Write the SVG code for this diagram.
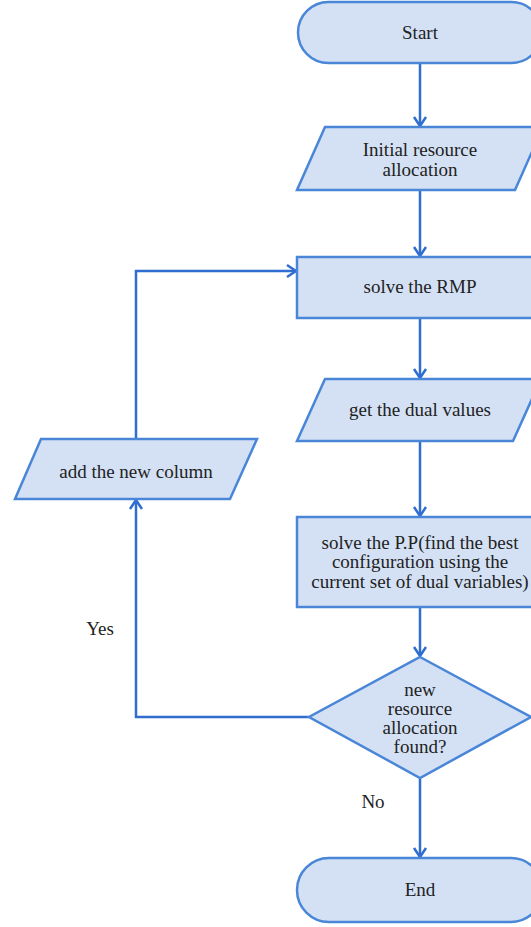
<svg xmlns="http://www.w3.org/2000/svg" width="531" height="927" viewBox="0 0 531 927">
<style>
.shape{fill:#D4E1F5;stroke:#4A86D8;stroke-width:2.5}
.conn{fill:none;stroke:#2F6DD0;stroke-width:2.5}
.t{font-family:'Liberation Serif',serif;font-size:19px;fill:#222;text-anchor:middle}
</style>
<defs>
<marker id="arr" markerUnits="userSpaceOnUse" markerWidth="16" markerHeight="16" refX="12" refY="8" orient="auto" viewBox="0 0 16 16">
<path d="M3,2 L12,8 L3,14" fill="none" stroke="#2F6DD0" stroke-width="2.5"/>
</marker>
</defs>
<rect width="531" height="927" fill="#fff"/>
<g id="connectors">
<path class="conn" d="M420,63 V126" marker-end="url(#arr)"/>
<path class="conn" d="M420,190 V256" marker-end="url(#arr)"/>
<path class="conn" d="M420,318 V378" marker-end="url(#arr)"/>
<path class="conn" d="M420,441 V516" marker-end="url(#arr)"/>
<path class="conn" d="M420,607 V656" marker-end="url(#arr)"/>
<path class="conn" d="M420,778 V857" marker-end="url(#arr)"/>
<path class="conn" d="M136,439 V271 H296" marker-end="url(#arr)"/>
<path class="conn" d="M309,717 H136 V500" marker-end="url(#arr)"/>
</g>
<g class="t" font-family="Liberation Serif, serif">
<g id="start">
<rect class="shape" x="298" y="2" width="244" height="61" rx="30.5"/>
<text x="420" y="39">Start</text>
</g>
<g id="initial">
<polygon class="shape" points="325,127 543,127 515,190 297,190"/>
<text x="420" y="156">Initial resource</text>
<text x="420" y="176">allocation</text>
</g>
<g id="rmp">
<rect class="shape" x="297" y="257" width="246" height="61"/>
<text x="420" y="293">solve the RMP</text>
</g>
<g id="dual">
<polygon class="shape" points="325,379 541,379 513,441 297,441"/>
<text x="420" y="416">get the dual values</text>
</g>
<g id="pp">
<rect class="shape" x="297" y="517" width="246" height="90"/>
<text x="420" y="549">solve the P.P(find the best</text>
<text x="420" y="568">configuration using the</text>
<text x="420" y="588">current set of dual variables)</text>
</g>
<g id="decision">
<polygon class="shape" points="420,657 531,717 420,778 309,717"/>
<text x="420" y="696">new</text>
<text x="420" y="715">resource</text>
<text x="420" y="734">allocation</text>
<text x="420" y="753">found?</text>
</g>
<g id="addcol">
<polygon class="shape" points="41,439 257,439 230,499 15,499"/>
<text x="136" y="478">add the new column</text>
</g>
<g id="end">
<rect class="shape" x="297" y="858" width="246" height="64" rx="32"/>
<text x="420" y="896">End</text>
</g>
<g id="labels">
<text x="100" y="635">Yes</text>
<text x="373" y="808">No</text>
</g>
</g>
</svg>
